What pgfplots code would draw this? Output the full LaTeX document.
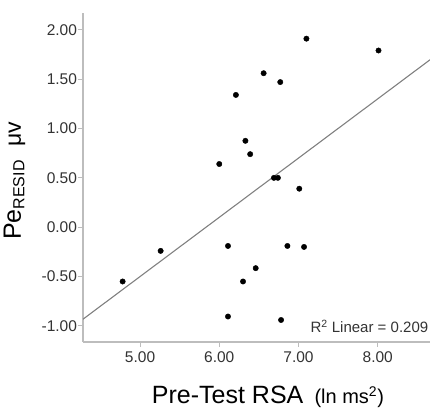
\documentclass[border=0pt]{standalone}
\usepackage{fontspec}
\setmainfont{Liberation Sans}
\usepackage{pgfplots}
\pgfplotsset{compat=1.18}
\definecolor{axgray}{HTML}{BDBDBD}
\definecolor{fitgray}{HTML}{808080}
\definecolor{ticktext}{HTML}{333333}
\begin{document}
\begin{tikzpicture}
\begin{axis}[
  at={(0,0)}, anchor=south west,
  scale only axis,
  width=347pt, height=329pt,
  xmin=4.28, xmax=8.66,
  ymin=-1.163, ymax=2.17,
  axis lines=left,
  axis line style={-, axgray, line width=1.3pt},
  tick style={axgray, line width=1pt},
  tick align=outside,
  major tick length=5pt,
  xtick={5,6,7,8},
  xticklabels={5.00,6.00,7.00,8.00},
  ytick={-1,-0.5,0,0.5,1,1.5,2},
  yticklabels={-1.00,-0.50,0.00,0.50,1.00,1.50,2.00},
  ticklabel style={font=\fontsize{15.5}{15.5}\selectfont, text=ticktext},
  yticklabel style={xshift=2.5pt},
  xticklabel style={yshift=-1pt},
  xlabel={Pre-Test RSA\, {\fontsize{20}{20}\selectfont (ln ms\textsuperscript{2})}},
  xlabel style={at={(axis description cs:0.533,-0.1884)}, anchor=base, font=\fontsize{25}{25}\selectfont},
  ylabel={Pe{\fontsize{16}{16}\selectfont\raisebox{-3.5pt}{RESID}}\ \ {\fontsize{23}{23}\selectfont μv}},
  ylabel style={at={(axis description cs:-0.1787,0.49)}, anchor=base, rotate=0, font=\fontsize{25}{25}\selectfont},
  clip=true,
]
\addplot[only marks, mark=*, mark size=2.7pt, black] coordinates {
(7.10,1.91) (6.56,1.56) (6.77,1.47) (6.21,1.34) (6.33,0.875) (6.39,0.74)
(6.00,0.64) (6.69,0.50) (6.74,0.50) (7.01,0.39) (6.11,-0.19) (6.86,-0.19)
(7.07,-0.20) (6.46,-0.415) (6.30,-0.55) (6.11,-0.905) (6.78,-0.94)
(4.78,-0.55) (5.26,-0.24) (8.01,1.79)
};
\addplot[fitgray, line width=1.1pt] coordinates {(4.28,-0.932) (8.66,1.696)};
\node[anchor=base east, inner sep=0, font=\fontsize{15}{15}\selectfont, text=ticktext] at (axis cs:8.64,-1.07) {R\textsuperscript{2} Linear = 0.209};
\end{axis}
\pgfresetboundingbox
\path (-83pt,-69pt) rectangle (347pt,342pt);
\end{tikzpicture}
\end{document}
